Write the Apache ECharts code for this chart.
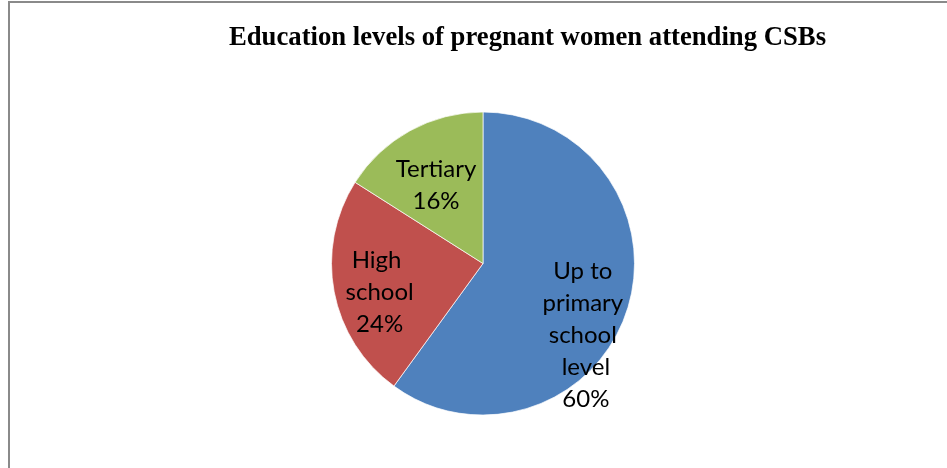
<!DOCTYPE html>
<html>
<head>
<meta charset="utf-8">
<title>Education levels of pregnant women attending CSBs</title>
<script src="https://cdn.jsdelivr.net/npm/echarts@6/dist/echarts.min.js"></script>
<style>
  html, body { margin: 0; padding: 0; background: #fff; }
  #wrap { position: relative; width: 947px; height: 468px; overflow: hidden; }
  #frame {
    position: absolute; left: 8px; top: 1px; right: -10px; bottom: -10px;
    border-left: 2px solid #8a8a8a; border-top: 2px solid #8a8a8a;
    pointer-events: none;
  }
  #chart { position: absolute; left: 0; top: 0; width: 947px; height: 468px; }
</style>
</head>
<body>
<div id="wrap">
  <div id="chart"></div>
  <div id="frame"></div>
</div>
<script>
// chart data
const titleText = 'Education levels of pregnant women attending CSBs';
const categories = ['Up to primary school level', 'High school', 'Tertiary'];
const shares = [60, 24, 16];
const sliceColors = ['#4f81bd', '#c0504d', '#9bbb59'];
// Excel puts the labels a bit off the mid radius
const labelOffsets = [[28, 47], [-26, 14], [-9, -9]];

const chart = echarts.init(document.getElementById('chart'), null, { renderer: 'canvas' });

chart.setOption({
  backgroundColor: 'transparent',
  animation: false,
  title: {
    text: titleText,
    left: 522.5,
    textAlign: 'center',
    top: 20,
    textStyle: {
      fontFamily: '"Liberation Serif", "Times New Roman", serif',
      fontWeight: 'bold',
      fontSize: 26.7,
      color: '#000'
    }
  },
  series: [
    {
      type: 'pie',
      center: [483, 263.5],
      radius: [0, 151.5],
      startAngle: 90,
      clockwise: true,
      avoidLabelOverlap: false,
      itemStyle: {
        borderColor: '#ffffff',
        borderWidth: 0.7
      },
      label: {
        show: true,
        position: 'inside',
        fontFamily: 'Lato, "Noto Sans", sans-serif',
        fontSize: 24,
        lineHeight: 32,
        color: '#000',
        width: 96,
        overflow: 'break',
        align: 'center',
        formatter: p => p.name + '\n' + Math.round(p.percent) + '%'
      },
      labelLine: { show: false },
      emphasis: { disabled: true },
      data: categories.map((name, i) => ({
        name: name,
        value: shares[i],
        itemStyle: { color: sliceColors[i] },
        label: { offset: labelOffsets[i] }
      }))
    }
  ]
});
</script>
</body>
</html>
